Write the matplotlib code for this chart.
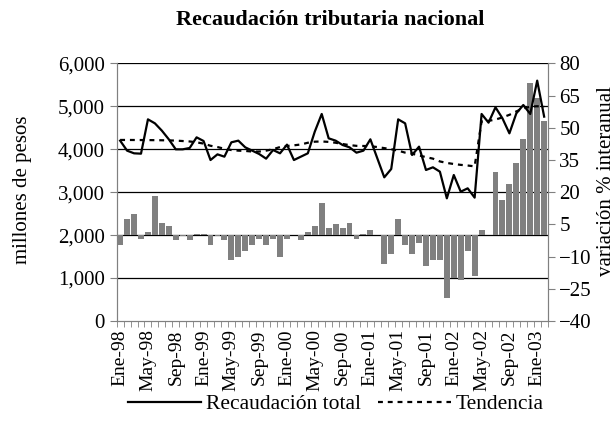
import matplotlib
matplotlib.use("Agg")
import matplotlib.pyplot as plt
import numpy as np

plt.rcParams["font.family"] = ["Liberation Serif", "DejaVu Serif"]

# meses Ene-98 .. Feb-03
meses_es = ["Ene", "Feb", "Mar", "Abr", "May", "Jun",
            "Jul", "Ago", "Sep", "Oct", "Nov", "Dic"]
anios = ["98", "99", "00", "01", "02", "03"]
meses = [m + "-" + a for a in anios for m in meses_es][:62]

# millones de pesos
recaudacion = [4199, 3966, 3904, 3896, 4695, 4602, 4432, 4230, 3997, 3997,
               4028, 4276, 4191, 3748, 3880, 3826, 4160, 4199, 4043, 3966,
               3888, 3780, 3981, 3904, 4106, 3748, 3826, 3904, 4408, 4820,
               4253, 4199, 4098, 4043, 3919, 3966, 4230, 3787, 3345, 3539,
               4695, 4602, 3865, 4059, 3516, 3578, 3477, 2856, 3399, 3011,
               3089, 2872, 4820, 4618, 4975, 4719, 4369, 4835, 5029, 4820,
               5596, 4758]

tendencia = [4215, 4215, 4214, 4213, 4212, 4210, 4208, 4205, 4200, 4190,
             4180, 4160, 4130, 4080, 4050, 4010, 3980, 3966, 3960, 3945,
             3945, 3966, 4000, 4050, 4075, 4090, 4110, 4150, 4175, 4180,
             4170, 4150, 4121, 4095, 4078, 4075, 4070, 4050, 4025, 4000,
             3966, 3920, 3895, 3855, 3815, 3780, 3715, 3680, 3655, 3635,
             3620, 3600, 4650, 4660, 4690, 4740, 4800, 4880, 4950, 4990,
             5000, 4990]

# variacion % interanual
variacion = [-4.7, 7.6, 10.0, -1.6, 1.6, 18.4, 5.8, 4.1, -2.5, -0.3,
             -2.5, 0.6, 0.3, -4.7, -0.3, -2.5, -11.4, -10.0, -7.3, -4.8,
             -1.6, -4.8, -1.6, -10.0, -1.6, 0.0, -2.5, 1.6, 4.1, 15.1,
             3.1, 5.0, 3.4, 5.8, -1.6, 0.6, 2.5, 0.2, -13.3, -9.0,
             7.6, -4.8, -9.0, -3.9, -14.4, -11.5, -11.5, -29.2, -19.8, -20.7,
             -7.3, -18.9, 2.5, 0.2, 29.2, 16.5, 24.0, 33.4, 44.6, 71.0,
             64.0, 53.0]

x = np.arange(len(meses))
gris = "#808080"
fs = 15

fig = plt.figure(figsize=(6.16, 4.30), dpi=100)
ax = fig.add_axes([0.1894, 0.2535, 0.6996, 0.5993])
ax2 = ax.twinx()

# barras por debajo, lineas encima
ax.set_zorder(ax2.get_zorder() + 1)
ax.patch.set_visible(False)

ax2.bar(x, variacion, width=0.85, color=gris, zorder=2)
ax2.set_ylim(-40, 80)
ax2.set_yticks(np.arange(-40, 81, 15))

ax.set_ylim(0, 6000)
ax.set_yticks(np.arange(0, 6001, 1000))
ax.set_yticklabels([f"{v:,}" for v in range(0, 6001, 1000)])

# lineas de grilla de la escala izquierda, detras de las barras
for v in range(1000, 6001, 1000):
    ax2.axhline(-40 + v / 6000 * 120, color="black", lw=0.9, zorder=0)

ax.plot(x, recaudacion, color="black", lw=1.6, label="Recaudación total")
ax.plot(x, tendencia, color="black", lw=1.6, linestyle=(0, (2.2, 2.2)),
        label="Tendencia")

ax.set_xlim(-0.5, len(x) - 0.5)
ax.set_xticks(x[::4])
ax.set_xticklabels(meses[::4], rotation=90)
ax.set_xticks(np.arange(-0.5, len(x)), minor=True)
ax.tick_params(axis="x", which="major", length=0, pad=6, labelsize=fs - 1)
ax.tick_params(axis="x", which="minor", length=4, color=gris)
ax.tick_params(axis="y", length=5, color=gris, labelsize=fs)
ax2.tick_params(axis="y", length=5, color=gris, labelsize=fs)

for a in (ax, ax2):
    a.spines["top"].set_visible(False)
    for s in ("left", "right", "bottom"):
        a.spines[s].set_color(gris)

fig.text(0.536, 0.953, "Recaudación tributaria nacional",
         ha="center", va="center", fontsize=16, fontweight="bold")
fig.text(0.036, 0.558, "millones de pesos", rotation=90,
         ha="center", va="center", fontsize=fs)
fig.text(0.985, 0.58, "variación % interanual", rotation=90,
         ha="center", va="center", fontsize=fs)

fig.legend(loc="center", bbox_to_anchor=(0.545, 0.06), ncol=2,
           frameon=False, fontsize=fs + 0.5, handlelength=3.4,
           columnspacing=0.8, handletextpad=0.2)

fig.savefig("out.png", dpi=100)
plt.close(fig)
